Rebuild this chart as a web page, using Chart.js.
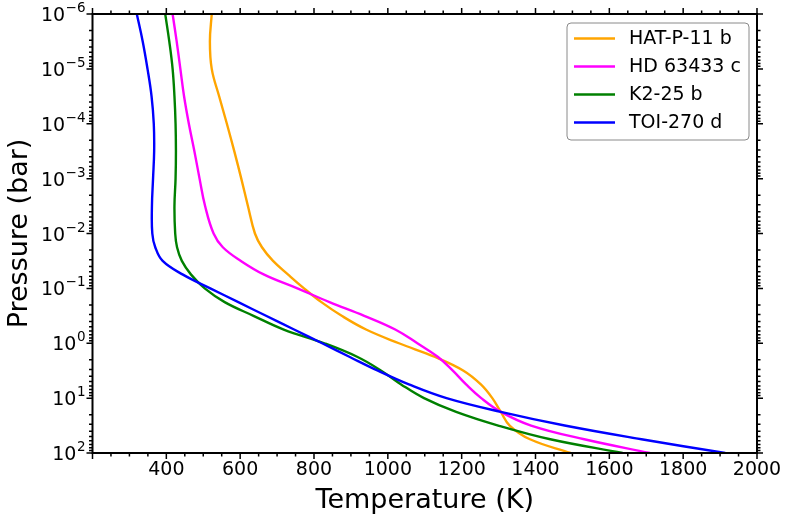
<!DOCTYPE html>
<html>
<head>
<meta charset="utf-8">
<script src="https://cdn.jsdelivr.net/npm/chart.js@4"></script>
<style>
  html, body { margin: 0; padding: 0; background: #fff; }
  #wrap { width: 789px; height: 519px; }
</style>
</head>
<body>
<div id="wrap"><canvas id="myChart"></canvas></div>
<script>
// pressure levels (bar), shared by all profiles
const pressure = [1e-6, 3.16e-6, 1e-5, 3.16e-5, 1e-4, 3.16e-4, 1e-3, 3.16e-3, 1e-2, 1.78e-2,
  3.16e-2, 5.62e-2, 0.1, 0.178, 0.316, 0.562, 1, 1.78, 3.16, 5.62, 10, 17.8, 31.6, 56.2, 100];

// temperature (K) at each pressure level
const hatP11b = [523, 518, 523, 543, 564, 584, 603, 621, 640, 659, 689, 730, 773, 820, 875,
  941, 1030, 1128, 1205, 1252, 1283, 1306, 1330, 1385, 1495];
const hd63433c = [417, 428, 438, 448, 461, 476, 490, 505, 528, 553, 602, 665, 755, 842, 936,
  1020, 1080, 1136, 1176, 1212, 1253, 1306, 1388, 1532, 1710];
const k225b = [397, 408, 417, 422, 425, 426, 425, 422, 424, 429, 442, 467, 504, 558, 636,
  718, 828, 918, 982, 1036, 1098, 1185, 1299, 1440, 1636];
const toi270d = [320, 336, 349, 360, 366, 367, 364, 361, 362, 370, 390, 445, 519, 595, 670,
  746, 822, 897, 973, 1057, 1159, 1306, 1479, 1687, 1914];

const planetNames = ["HAT-P-11 b", "HD 63433 c", "K2-25 b", "TOI-270 d"];
const planetColors = ["#FFA500", "#FF00FF", "#008000", "#0000FF"];

const xTickValues = [400, 600, 800, 1000, 1200, 1400, 1600, 1800, 2000];
const yTickValues = [1e-6, 1e-5, 1e-4, 1e-3, 1e-2, 1e-1, 1, 10, 100];
const yTickExponents = ["−6", "−5", "−4", "−3", "−2", "−1", "0", "1", "2"];

const FONT = "'DejaVu Sans', 'Liberation Sans', sans-serif";

// ticks on all four sides (major + minor), the frame, and 10^n labels
const frameTicks = {
  id: "frameTicks",
  afterDatasetsDraw(chart) {
    const { ctx, chartArea: a, scales } = chart;
    const xs = scales.x, ys = scales.y;
    ctx.save();
    ctx.strokeStyle = "#000";
    ctx.lineWidth = 1.5;
    ctx.beginPath();
    for (let t = 200; t <= 2000; t += 50) {
      const px = xs.getPixelForValue(t);
      const len = t % 200 === 0 ? 6 : 3.5;
      ctx.moveTo(px, a.bottom); ctx.lineTo(px, a.bottom + len);
      ctx.moveTo(px, a.top); ctx.lineTo(px, a.top - len);
    }
    for (let e = -6; e <= 2; e++) {
      for (let m = 1; m <= 9; m++) {
        const v = m * Math.pow(10, e);
        if (v > 100) break;
        const py = ys.getPixelForValue(v);
        const len = m === 1 ? 6 : 3.5;
        ctx.moveTo(a.left, py); ctx.lineTo(a.left - len, py);
        ctx.moveTo(a.right, py); ctx.lineTo(a.right + len, py);
      }
    }
    ctx.stroke();
    ctx.lineWidth = 2;
    ctx.strokeRect(a.left, a.top, a.right - a.left, a.bottom - a.top);

    // y tick labels drawn as "10" with a raised exponent
    ctx.fillStyle = "#000";
    ctx.textBaseline = "alphabetic";
    ctx.textAlign = "left";
    yTickValues.forEach((v, i) => {
      const py = ys.getPixelForValue(v);
      const baseFont = "19px " + FONT, expFont = "13.5px " + FONT;
      ctx.font = expFont;
      const ew = ctx.measureText(yTickExponents[i]).width;
      ctx.font = baseFont;
      const bw = ctx.measureText("10").width;
      const right = a.left - 7;
      const base = py + 7;
      ctx.fillText("10", right - ew - bw - 0.5, base);
      ctx.font = expFont;
      ctx.fillText(yTickExponents[i], right - ew, base - 9);
    });
    ctx.restore();
  }
};

// legend box in the upper right of the plot
const insideLegend = {
  id: "insideLegend",
  afterDraw(chart) {
    const { ctx, chartArea: a } = chart;
    const w = 182, h = 117;
    const left = a.right - 8 - w, top = a.top + 9;
    ctx.save();
    ctx.beginPath();
    ctx.roundRect(left, top, w, h, 4);
    ctx.fillStyle = "rgba(255,255,255,0.85)";
    ctx.fill();
    ctx.strokeStyle = "#8a8a8a";
    ctx.lineWidth = 1;
    ctx.stroke();
    ctx.font = "19px " + FONT;
    ctx.textBaseline = "middle";
    ctx.textAlign = "left";
    chart.data.datasets.forEach((ds, i) => {
      const yy = top + 15.5 + i * 28;
      ctx.beginPath();
      ctx.strokeStyle = ds.borderColor;
      ctx.lineWidth = 2.4;
      ctx.moveTo(left + 7, yy);
      ctx.lineTo(left + 48, yy);
      ctx.stroke();
      ctx.fillStyle = "#000";
      ctx.fillText(ds.label, left + 62, yy + 1);
    });
    ctx.restore();
  }
};

const series = [hatP11b, hd63433c, k225b, toi270d];
const datasets = series.map((temps, i) => ({
  label: planetNames[i],
  data: temps.map((t, j) => ({ x: t, y: pressure[j] })),
  borderColor: planetColors[i],
  backgroundColor: planetColors[i],
  borderWidth: 2.4,
  showLine: true,
  pointRadius: 0,
  tension: 0.4,
  order: series.length - 1 - i,
}));

const ctx = document.getElementById("myChart");
const myChart = new Chart(ctx, {
  type: "scatter",
  data: { datasets: datasets },
  options: {
    responsive: true,
    maintainAspectRatio: false,
    animation: false,
    layout: { padding: { left: 0, right: 32, top: 14, bottom: 0 } },
    plugins: {
      legend: { display: false },
      tooltip: { enabled: false },
    },
    scales: {
      x: {
        type: "linear",
        position: "bottom",
        min: 200,
        max: 2000,
        grid: { display: false, drawTicks: false },
        border: { display: false },
        afterBuildTicks: (scale) => {
          scale.ticks = xTickValues.map((v) => ({ value: v }));
        },
        afterFit: (scale) => { scale.height = 66; },
        ticks: {
          autoSkip: false,
          maxRotation: 0,
          padding: 6,
          color: "#000",
          font: { family: FONT, size: 19 },
          callback: (v) => String(v),
        },
        title: {
          display: true,
          text: "Temperature (K)",
          color: "#000",
          font: { family: FONT, size: 27 },
          padding: { top: 0, bottom: 2 },
        },
      },
      y: {
        type: "logarithmic",
        position: "left",
        reverse: true,
        min: 1e-6,
        max: 100,
        grid: { display: false, drawTicks: false },
        border: { display: false },
        afterBuildTicks: (scale) => {
          scale.ticks = yTickValues.map((v) => ({ value: v }));
        },
        afterFit: (scale) => { scale.width = 92.5; },
        ticks: { display: false },
        title: {
          display: true,
          text: "Pressure (bar)",
          color: "#000",
          font: { family: FONT, size: 27 },
          padding: { top: 4, bottom: 0 },
        },
      },
    },
  },
  plugins: [frameTicks, insideLegend],
});
</script>
</body>
</html>
